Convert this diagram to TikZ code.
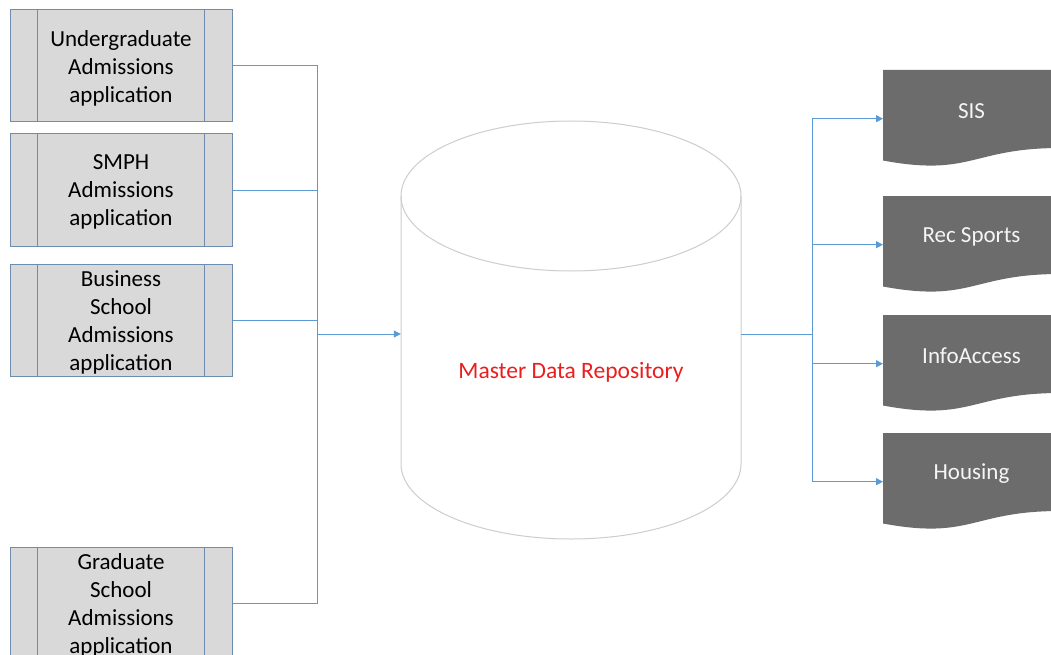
\documentclass[tikz,border=0pt]{standalone}
\usepackage{fontspec}
\setmainfont{Carlito}
\usetikzlibrary{arrows.meta}
\definecolor{conn}{RGB}{91,155,213}
\definecolor{boxfill}{RGB}{217,217,217}
\definecolor{boxline}{RGB}{110,140,175}
\definecolor{cylline}{RGB}{205,205,205}
\definecolor{docfill}{RGB}{108,108,108}
\definecolor{doctext}{RGB}{245,245,245}
\definecolor{repored}{RGB}{235,30,30}
\tikzset{
  procbox/.style={draw=boxline, fill=boxfill, line width=1pt, minimum width=222pt, minimum height=112pt, inner sep=0pt},
  proctext/.style={font=\fontsize{23}{28}\selectfont, align=center, text=black, yshift=-2pt},
  conn/.style={draw=conn, line width=1pt},
  connarrow/.style={conn, -{Triangle[length=7pt,width=7pt]}},
  doctxt/.style={font=\fontsize{23}{26}\selectfont, text=doctext, inner sep=0pt},
  docshape/.style={fill=docfill, draw=none},
}
\begin{document}
\begin{tikzpicture}[x=1pt,y=-1pt]
\useasboundingbox (0,0) rectangle (1051,655);
\clip (0,0) rectangle (1051,655);
\fill[white] (0,0) rectangle (1051,655);

% left process boxes
\foreach \n/\cy in {a/66, b/190, c/320, d/603}{
  \node[procbox] (\n) at (121,\cy) {};
  \draw[boxline, line width=1pt] ([xshift=28pt]\n.north west) -- ([xshift=28pt]\n.south west);
  \draw[boxline, line width=1pt] ([xshift=-28pt]\n.north east) -- ([xshift=-28pt]\n.south east);
}
\node[proctext] at (a) {Undergraduate\\Admissions\\application};
\node[proctext] at (b) {SMPH\\Admissions\\application};
\node[proctext] at (c) {Business\\School\\Admissions\\application};
\node[proctext] at (d) {Graduate\\School\\Admissions\\application};

% cylinder
\node[minimum width=340pt, minimum height=418pt, inner sep=0pt] (repo) at (571,330) {};
\draw[cylline, line width=1pt, fill=white]
  (401,196) -- (401,464) arc[start angle=180, end angle=360, x radius=170, y radius=-75]
  -- (741,196);
\draw[cylline, line width=1pt] (571,196) ellipse[x radius=170, y radius=75];
\node[font=\fontsize{23.5}{26}\selectfont, text=repored] (repotext) at (571,372) {Master Data Repository};

% left connectors
\coordinate (jl) at (317,334);
\draw[conn] (a.east) -| (317,603) -- (d.east);
\draw[conn] (b.east) -- (b.east -| jl);
\draw[conn] (c.east) -- (c.east -| jl);
\draw[connarrow] (jl) -- (jl -| repo.west);

% documents
\foreach \n/\t/\lab in {s1/70/SIS, s2/196/Rec Sports, s3/315/InfoAccess, s4/433/Housing}{
  \path[docshape] (883,\t) -- (1060,\t) -- (1060,\t+78)
    .. controls (971.5,\t+78) and (971.5,\t+107) .. (883,\t+90.5) -- cycle;
  \node[doctxt] at (971.5,\t+41) {\lab};
  \node[minimum width=177pt, minimum height=97pt, inner sep=0pt, anchor=north west] (\n) at (883,\t) {};
}

% right connectors
\coordinate (jr) at (812,334);
\draw[conn] (repo.east |- jr) -- (jr);
\draw[conn] (s1.west -| jr) -- (s4.west -| jr);
\foreach \n in {s1,s2,s3,s4}{
  \draw[connarrow] (\n.west -| jr) -- (\n.west);
}
\end{tikzpicture}
\end{document}
